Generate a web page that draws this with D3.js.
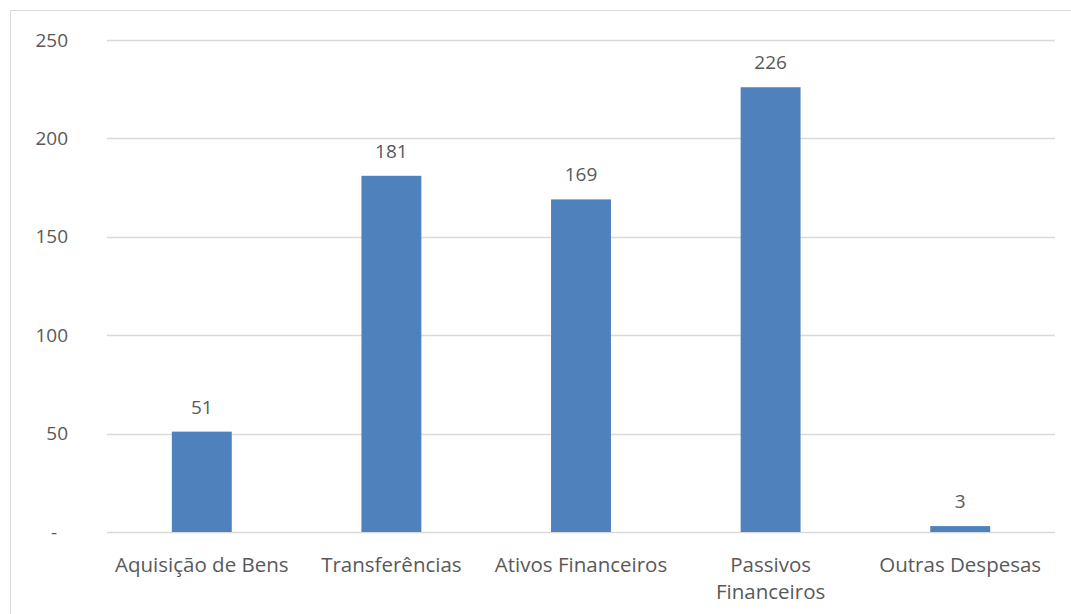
<!DOCTYPE html>
<html>
<head>
<meta charset="utf-8">
<script src="https://cdn.jsdelivr.net/npm/d3@7"></script>
<style>
  html, body { margin: 0; padding: 0; background: #fff; }
  svg { display: block; }
</style>
</head>
<body>
<svg id="chart" width="1071" height="614"></svg>
<script>
// Despesas por categoria
const categories = ["Aquisição de Bens", "Transferências", "Ativos Financeiros", "Passivos Financeiros", "Outras Despesas"];
const values = [51, 181, 169, 226, 3];
const tickValues = [0, 50, 100, 150, 200, 250];
const tickLabels = ["-", "50", "100", "150", "200", "250"];

const W = 1071, H = 614;
const margin = { left: 107, right: 16, top: 40, bottom: 82 };
const font = "'Open Sans', sans-serif";
const numSize = 19;
const catSize = 20.5;
const textColor = "#595959";

const svg = d3.select("#chart");

// chart frame
svg.append("rect")
  .attr("x", 10.5).attr("y", 10.5)
  .attr("width", W + 10).attr("height", H + 10)
  .attr("fill", "#fff").attr("stroke", "#d9d9d9").attr("stroke-width", 1);

const x = d3.scaleBand()
  .domain(categories)
  .range([margin.left, W - margin.right])
  .paddingInner(0.684).paddingOuter(0.342);

const y = d3.scaleLinear()
  .domain([0, 250])
  .range([H - margin.bottom, margin.top]);

// gridlines
svg.append("g")
  .selectAll("line")
  .data(tickValues)
  .join("line")
  .attr("x1", margin.left).attr("x2", W - margin.right)
  .attr("y1", d => Math.round(y(d)) + 0.5).attr("y2", d => Math.round(y(d)) + 0.5)
  .attr("stroke", "#d9d9d9").attr("stroke-width", 1.3);

// y axis labels (zero shown as an accounting dash)
const yAxis = d3.axisLeft(y)
  .tickValues(tickValues)
  .tickFormat((d, i) => tickLabels[i])
  .tickSize(0).tickPadding(0);
svg.append("g")
  .attr("transform", `translate(68,0)`)
  .call(yAxis)
  .call(g => g.select(".domain").remove())
  .call(g => g.selectAll("text")
    .attr("fill", textColor).attr("font-family", font).attr("font-size", numSize)
    .attr("dx", d => d === 0 ? -11 : 0));

// bars
svg.append("g")
  .selectAll("rect")
  .data(values)
  .join("rect")
  .attr("x", (d, i) => x(categories[i]))
  .attr("width", x.bandwidth())
  .attr("y", d => y(d))
  .attr("height", d => y(0) - y(d))
  .attr("fill", "#4f81bd");

// value labels
svg.append("g")
  .selectAll("text")
  .data(values)
  .join("text")
  .attr("x", (d, i) => x(categories[i]) + x.bandwidth() / 2)
  .attr("y", d => y(d) - 18)
  .attr("text-anchor", "middle")
  .attr("fill", textColor).attr("font-family", font).attr("font-size", numSize)
  .text(d => d);

// category labels, wrapped where the band is too narrow
const xAxis = d3.axisBottom(x).tickSize(0).tickPadding(0);
const xg = svg.append("g")
  .attr("transform", `translate(0,${y(0)})`)
  .call(xAxis)
  .call(g => g.select(".domain").remove());
xg.selectAll("text")
  .attr("fill", textColor).attr("font-family", font).attr("font-size", catSize)
  .attr("y", 0).attr("dy", null)
  .each(function(d) {
    const t = d3.select(this);
    t.text(null);
    const lines = d === "Passivos Financeiros" ? ["Passivos", "Financeiros"] : [d];
    lines.forEach((ln, i) => {
      t.append("tspan").attr("x", 0).attr("y", 40 + i * 27).text(ln);
    });
  });
</script>
</body>
</html>
